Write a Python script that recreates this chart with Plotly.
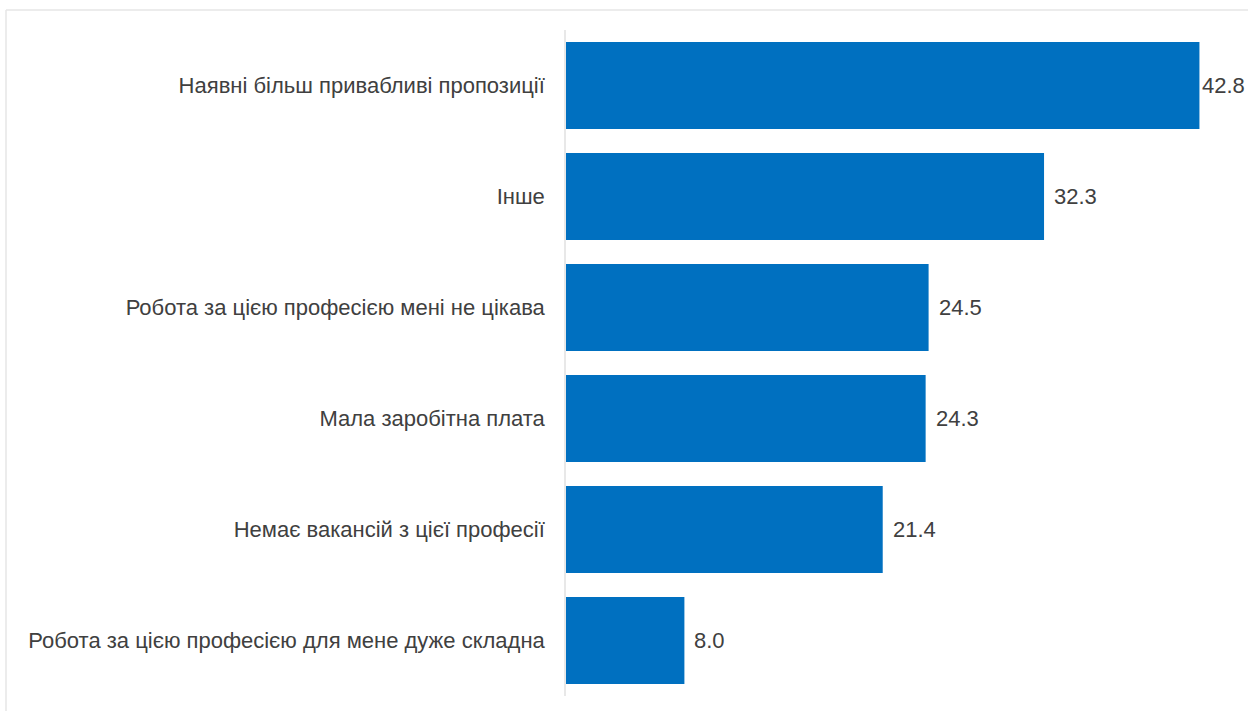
import plotly.graph_objects as go

categories = [
    "Наявні більш привабливі пропозиції",
    "Інше",
    "Робота за цією професією мені не цікава",
    "Мала заробітна плата",
    "Немає вакансій з цієї професії",
    "Робота за цією професією для мене дуже складна",
]
values = [42.8, 32.3, 24.5, 24.3, 21.4, 8.0]

W, H = 1248, 711
ML, MR, MT, MB = 566, 16, 30, 15
XMAX = 45.0
plot_w = W - ML - MR
plot_h = H - MT - MB
FONT = "Liberation Sans, Arial, Helvetica, sans-serif"
FSIZE = 22
TXT = "#404040"

fig = go.Figure(
    go.Bar(
        x=values,
        y=categories,
        orientation="h",
        marker=dict(color="#0070C0", line=dict(width=0)),
        width=0.785,
        hoverinfo="skip",
    )
)

vmax = max(values)
annotations = []
for c, v in zip(categories, values):
    annotations.append(
        dict(
            x=v, y=c, xref="x", yref="y",
            text=f"{v:.1f}", showarrow=False,
            xanchor="left", yanchor="middle",
            xshift=1 if v == vmax else 8,
            font=dict(family=FONT, size=FSIZE, color=TXT),
        )
    )


def px_x(p):
    return (p - ML) / plot_w


def px_y(p):
    return (H - MB - p) / plot_h


shapes = [
    dict(type="line", xref="paper", yref="paper",
         x0=px_x(6), x1=px_x(W + 5), y0=px_y(10), y1=px_y(10),
         line=dict(color="#e6e6e6", width=1.5)),
    dict(type="line", xref="paper", yref="paper",
         x0=px_x(6), x1=px_x(6), y0=px_y(10), y1=px_y(H + 5),
         line=dict(color="#e6e6e6", width=1.5)),
]

fig.update_layout(
    width=W, height=H,
    margin=dict(l=ML, r=MR, t=MT, b=MB),
    paper_bgcolor="white", plot_bgcolor="white",
    showlegend=False,
    bargap=0.215,
    xaxis=dict(range=[0, XMAX], visible=False, fixedrange=True),
    yaxis=dict(
        categoryorder="array", categoryarray=categories,
        autorange="reversed",
        showline=True, linecolor="#e8e8e8", linewidth=1.5,
        showgrid=False, zeroline=False, ticks="",
        ticklabelstandoff=15,
        tickfont=dict(family=FONT, size=FSIZE, color=TXT),
        fixedrange=True,
    ),
    annotations=annotations,
    shapes=shapes,
)

fig.write_html(
    "out.html",
    config={"displayModeBar": False},
    post_script="document.body.style.margin='0';document.body.style.padding='0';",
)
